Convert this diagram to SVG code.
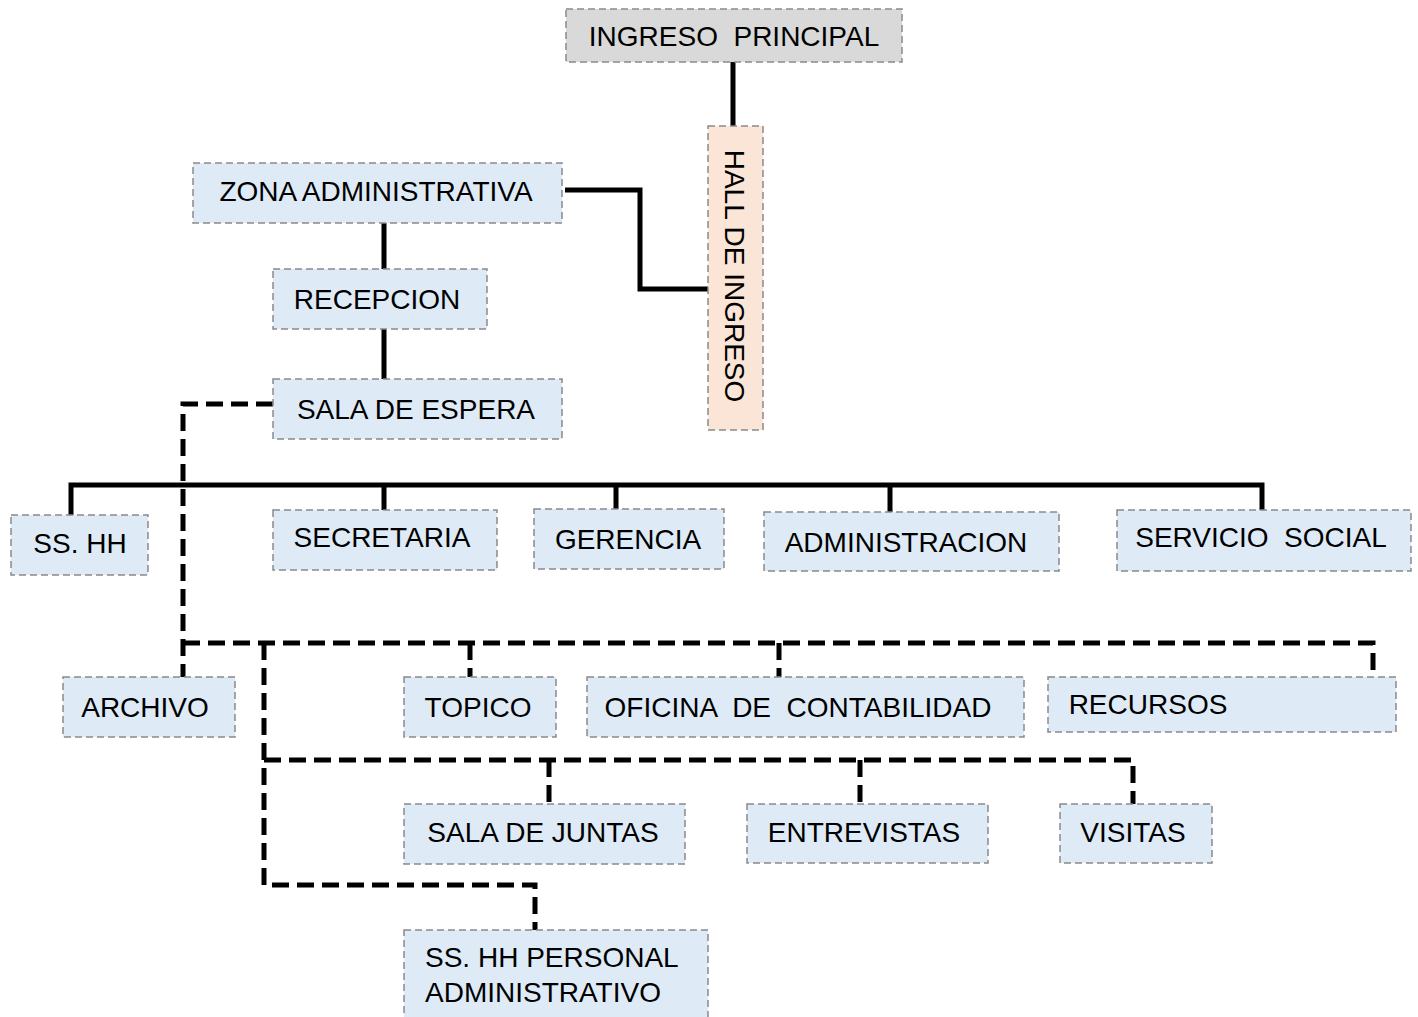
<svg xmlns="http://www.w3.org/2000/svg" width="1418" height="1017" viewBox="0 0 1418 1017">
<style>
.box{stroke:#8a8a8a;stroke-width:1.5;stroke-dasharray:7 4}
.blue{fill:#deebf7}
.gray{fill:#d9d9d9}
.peach{fill:#fbe5d6}
text{font-family:"Liberation Sans",Arial,sans-serif;font-size:28px;fill:#000;text-anchor:middle}
.solid{fill:none;stroke:#000;stroke-width:5}
.dash{fill:none;stroke:#000;stroke-width:5;stroke-dasharray:17 8}
</style>
<rect width="1418" height="1017" fill="#fff"/>
<g id="connectors">
<path class="solid" d="M733 62V126"/>
<path class="solid" d="M565 190H640V289H708"/>
<path class="solid" d="M384 223V269"/>
<path class="solid" d="M384 329V379"/>
<path class="solid" d="M71 515V485H1262V510"/>
<path class="solid" d="M384 485V510"/>
<path class="solid" d="M616 485V509"/>
<path class="solid" d="M890 485V512"/>
<path class="dash" d="M273 404H183V677"/>
<path class="dash" d="M183 643H1373V677"/>
<path class="dash" d="M470 643V677"/>
<path class="dash" d="M779 643V677"/>
<path class="dash" d="M264 643V885H535V930"/>
<path class="dash" d="M264 760H1133V804"/>
<path class="dash" d="M549 760V804"/>
<path class="dash" d="M860 760V804"/>
</g>
<g id="ingreso-principal"><rect class="box gray" x="566" y="9" width="336" height="53"/><text x="734" y="46" xml:space="preserve">INGRESO  PRINCIPAL</text></g>
<g id="hall-de-ingreso"><rect class="box peach" x="708" y="126" width="55" height="304"/><text transform="translate(735,276) rotate(90)" x="0" y="10">HALL DE INGRESO</text></g>
<g id="zona-administrativa"><rect class="box blue" x="193" y="163" width="369" height="60"/><text x="376" y="201">ZONA ADMINISTRATIVA</text></g>
<g id="recepcion"><rect class="box blue" x="273" y="269" width="214" height="60"/><text x="377" y="309">RECEPCION</text></g>
<g id="sala-de-espera"><rect class="box blue" x="273" y="379" width="289" height="60"/><text x="416" y="419">SALA DE ESPERA</text></g>
<g id="ss-hh"><rect class="box blue" x="11" y="515" width="137" height="60"/><text x="80" y="553">SS. HH</text></g>
<g id="secretaria"><rect class="box blue" x="273" y="510" width="224" height="60"/><text x="382" y="547">SECRETARIA</text></g>
<g id="gerencia"><rect class="box blue" x="534" y="509" width="190" height="60"/><text x="628" y="549">GERENCIA</text></g>
<g id="administracion"><rect class="box blue" x="764" y="512" width="295" height="59"/><text x="906" y="552">ADMINISTRACION</text></g>
<g id="servicio-social"><rect class="box blue" x="1117" y="510" width="294" height="61"/><text x="1261" y="547" xml:space="preserve">SERVICIO  SOCIAL</text></g>
<g id="archivo"><rect class="box blue" x="63" y="677" width="172" height="60"/><text x="145" y="717">ARCHIVO</text></g>
<g id="topico"><rect class="box blue" x="404" y="677" width="152" height="60"/><text x="478" y="717">TOPICO</text></g>
<g id="oficina-de-contabilidad"><rect class="box blue" x="587" y="677" width="437" height="60"/><text x="798" y="717" xml:space="preserve">OFICINA  DE  CONTABILIDAD</text></g>
<g id="recursos"><rect class="box blue" x="1048" y="677" width="348" height="55"/><text x="1148" y="714">RECURSOS</text></g>
<g id="sala-de-juntas"><rect class="box blue" x="404" y="804" width="281" height="60"/><text x="543" y="842">SALA DE JUNTAS</text></g>
<g id="entrevistas"><rect class="box blue" x="747" y="804" width="241" height="59"/><text x="864" y="842">ENTREVISTAS</text></g>
<g id="visitas"><rect class="box blue" x="1060" y="804" width="152" height="59"/><text x="1133" y="842">VISITAS</text></g>
<g id="ss-hh-personal-administrativo"><rect class="box blue" x="404" y="930" width="304" height="95"/><text x="425" y="967" style="text-anchor:start">SS. HH PERSONAL</text><text x="425" y="1002" style="text-anchor:start">ADMINISTRATIVO</text></g>
</svg>
